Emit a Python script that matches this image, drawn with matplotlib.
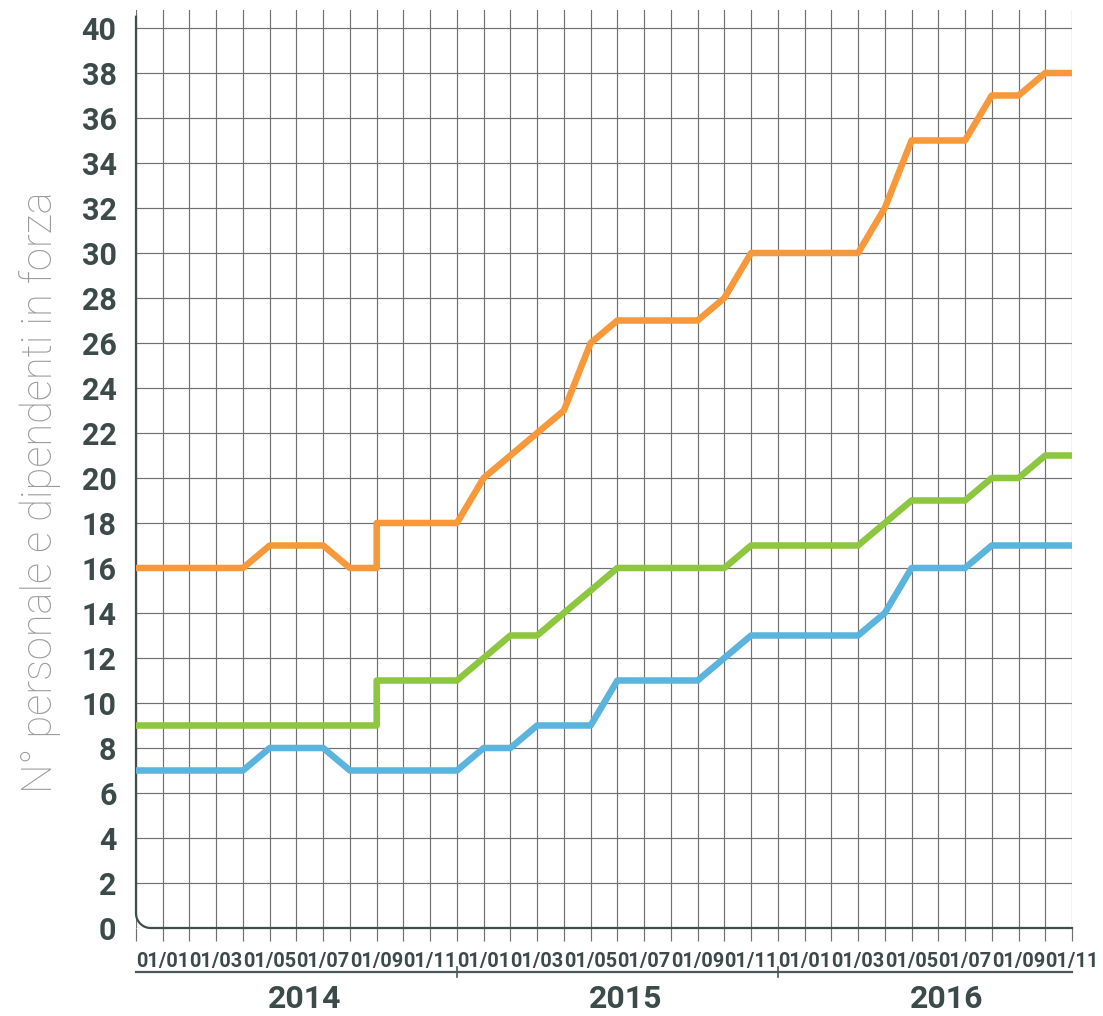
import matplotlib
matplotlib.use("Agg")
import matplotlib.pyplot as plt
import matplotlib.transforms as mtransforms
import numpy as np

# month index (0..35); month 9 repeated for the vertical jump
mesi = [0, 1, 2, 3, 4, 5, 6, 7, 8, 9, 9, 10, 11, 12, 13, 14, 15, 16, 17, 18,
        19, 20, 21, 22, 23, 24, 25, 26, 27, 28, 29, 30, 31, 32, 33, 34, 35]

arancio = [16, 16, 16, 16, 16, 17, 17, 17, 16, 16, 18, 18, 18, 18, 20, 21, 22, 23, 26,
           27, 27, 27, 27, 28, 30, 30, 30, 30, 30, 32, 35, 35, 35, 37, 37, 38, 38]
verde = [9, 9, 9, 9, 9, 9, 9, 9, 9, 9, 11, 11, 11, 11, 12, 13, 13, 14, 15,
         16, 16, 16, 16, 16, 17, 17, 17, 17, 17, 18, 19, 19, 19, 20, 20, 21, 21]
azzurro = [7, 7, 7, 7, 7, 8, 8, 8, 7, 7, 7, 7, 7, 7, 8, 8, 9, 9, 9,
           11, 11, 11, 11, 12, 13, 13, 13, 13, 13, 14, 16, 16, 16, 17, 17, 17, 17]

mesi_label = ['01/01', '01/03', '01/05', '01/07', '01/09', '01/11']
anni = ['2014', '2015', '2016']

testo = '#3d4a4a'
griglia = '#707070'

fig = plt.figure(figsize=(11.03, 10.16), dpi=100)
ax = fig.add_axes([136 / 1103, 88 / 1016, (1072 - 136) / 1103, (928 - 10) / 1016])

ax.plot(mesi, arancio, color='#F7993A', lw=4.7, solid_capstyle='butt', zorder=3, clip_on=False)
ax.plot(mesi, verde, color='#8DC63F', lw=4.7, solid_capstyle='butt', zorder=3, clip_on=False)
ax.plot(mesi, azzurro, color='#5BB4DD', lw=4.7, solid_capstyle='butt', zorder=3, clip_on=False)

ax.set_xlim(0, 35)
ax.set_ylim(0, 40.8)

# grid
ax.set_yticks(np.arange(0, 41, 2))
ax.set_xticks(np.arange(0, 36))
ax.grid(True, color=griglia, lw=0.85, zorder=1)
for s in ax.spines.values():
    s.set_visible(False)

ax.tick_params(axis='y', length=0, pad=14, labelsize=22, labelcolor=testo)
ax.tick_params(axis='x', length=9, width=0.85, color=griglia, pad=8, labelsize=14.4, labelcolor=testo)
for t in ax.get_yticklabels():
    t.set_fontfamily('Roboto')
    t.set_fontweight('bold')

xl = []
for a in anni:
    for m in mesi_label:
        xl.append('')
        xl.append(m)
ax.set_xticklabels(xl, fontfamily='Roboto', fontweight='bold')

# axis with rounded corner
rx, ry = 0.55, 0.65
th = np.linspace(np.pi, 1.5 * np.pi, 20)
cx = rx + rx * np.cos(th)
cy = ry + ry * np.sin(th)
px = np.concatenate([[0], cx, [35]])
py = np.concatenate([[40.5], cy, [0]])
ax.plot(px, py, color='#3f4f4f', lw=1.6, clip_on=False, zorder=2)

# year band
trans = mtransforms.blended_transform_factory(ax.transData, ax.transAxes)
yb = -0.048
ax.plot([0, 35], [yb, yb], color='#4a5858', lw=1.6, transform=trans, clip_on=False)
for xv in [12, 24]:
    ax.plot([xv, xv], [yb - 0.005, yb + 0.005], color='#4a5858', lw=1.2,
            transform=trans, clip_on=False)
for i, a in enumerate(anni):
    ax.text(6.3 + 12 * i, -0.077, a, transform=trans, ha='center', va='center',
            fontsize=23, fontweight='bold', fontfamily='Roboto', color=testo)

fig.text(40 / 1103, 1 - 492 / 1016, 'N° personale e dipendenti in forza', rotation=90,
         ha='center', va='center', fontsize=30, color='#9a9a9a',
         fontfamily='Roboto', fontweight='light')

fig.savefig('out.png', dpi=100, facecolor='white')
